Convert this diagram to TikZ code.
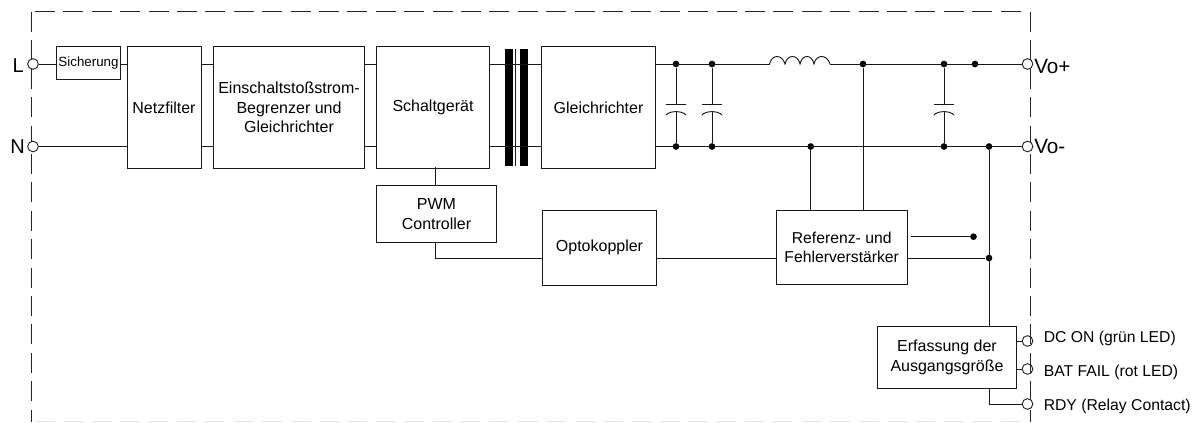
\documentclass[tikz,border=0pt]{standalone}
\usepackage{fontspec}
\setmainfont{Liberation Sans}
\usepackage{tikz}
\usetikzlibrary{arrows.meta,positioning,calc}

\begin{document}
\begin{tikzpicture}[
    x=0.75pt, y=-0.75pt,
    line/.style={draw=black!90, line width=0.7pt},
    box/.style={rectangle, draw=black!90, line width=0.7pt, font=\fontsize{12}{14.5}\selectfont, align=center, inner sep=0pt},
    frame/.style={draw=black!85, line width=0.7pt, dash pattern=on 15pt off 6.3pt},
    dot/.style={circle, fill=black, inner sep=0pt, minimum size=5pt},
    terminal/.style={circle, draw=black!85, line width=0.7pt, fill=white, inner sep=0pt, minimum size=8pt},
    label/.style={font=\fontsize{11.8}{14}\selectfont, inner sep=0pt},
    biglabel/.style={font=\fontsize{15}{17}\selectfont, inner sep=0pt}
]
\useasboundingbox (0,0) rectangle (1192,422);

% Boundary
\draw[frame] (35,11.5) -- (1021,11.5);
\draw[frame] (31,12) -- (31,422);
\draw[frame] (1030,12) -- (1030,422);
\draw[frame, draw=black!10, line width=0.6pt] (35,421.7) -- (1021,421.7);

% Blocks
\node[box, minimum width=48pt, minimum height=24.5pt, font=\fontsize{10}{12}\selectfont] (sicherung) at (88.5,63.2) {Sicherung};
\node[box, minimum width=55.5pt, minimum height=91pt] (netzfilter) at (164,107.5) {Netzfilter};
\node[box, minimum width=113pt, minimum height=91pt] (einschalt) at (289,107.5) {Einschaltstoßstrom-\\Begrenzer und\\Gleichrichter};
\node[box, minimum width=85pt, minimum height=91pt] (schalt) at (433,107.5) {Schaltgerät};
\node[box, minimum width=85pt, minimum height=91pt] (gleich) at (598.5,107.5) {Gleichrichter};
\node[box, minimum width=90.5pt, minimum height=43pt] (pwm) at (436.5,214.2) {PWM\\Controller};
\node[box, minimum width=85pt, minimum height=56pt] (opto) at (599.5,247.8) {Optokoppler};
\node[box, minimum width=98.5pt, minimum height=56pt, font=\fontsize{11.8}{14.5}\selectfont] (referenz) at (841.7,247.3) {Referenz- und\\Fehlerverstärker};
\node[box, minimum width=104.5pt, minimum height=46pt] (erfassung) at (947,357.5) {Erfassung der\\Ausgangsgröße};

% Terminals
\node[terminal] (tl) at (33,64) {};
\node[terminal] (tn) at (33,146.5) {};
\node[terminal] (tvp) at (1027.5,64) {};
\node[terminal] (tvm) at (1027.5,146.5) {};
\node[terminal, fill=none] (tdc) at (1027.5,341) {};
\node[terminal, fill=none] (tbat) at (1027.5,369) {};
\node[terminal] (trdy) at (1027.5,404) {};

% Terminal labels
\node[biglabel, anchor=east] (ll) at (24,65.5) {L};
\node[biglabel, anchor=east] (ln) at (25,146.5) {N};
\node[biglabel, font=\fontsize{15.5}{17}\selectfont, anchor=west] (lvp) at (1034,66.5) {Vo+};
\node[biglabel, font=\fontsize{15.5}{17}\selectfont, anchor=west] (lvm) at (1034,146.5) {Vo-};
\node[label, anchor=west] (ldc) at (1043.5,338.5) {DC ON (grün LED)};
\node[label, anchor=west] (lbat) at (1043.5,372.5) {BAT FAIL (rot LED)};
\node[label, anchor=west] (lrdy) at (1043.5,406.5) {RDY (Relay Contact)};

% Junctions
\foreach \name/\px/\py in {ca/676/64, cb/676/146.5, cc/712/64, cd/712/146.5, lout/863/64, ee/944/64, ef/944/146.5, eg/975/64, fb/810.7/146.5, vm/989/146.5, sense/989/258, open/973.5/236.7}
    \node[dot] (\name) at (\px,\py) {};

% Transformer
\fill[black] (505.3,48.5) rectangle (512.7,166);
\fill[black] (520,48.5) rectangle (527.5,166);
\draw[line] (515.5,48.5) -- (515.5,166);

% Mains side
\draw[line] (tl) -- (sicherung.west |- tl);
\draw[line] (sicherung.east |- tl) -- (netzfilter.west |- tl);
\draw[line] (tn) -- (netzfilter.west |- tn);
\draw[line] (netzfilter.east |- tl) -- (einschalt.west |- tl);
\draw[line] (netzfilter.east |- tn) -- (einschalt.west |- tn);
\draw[line] (einschalt.east |- tl) -- (schalt.west |- tl);
\draw[line] (einschalt.east |- tn) -- (schalt.west |- tn);
\draw[line] (schalt.east |- tl) -- (gleich.west |- tl);
\draw[line] (schalt.east |- tn) -- (gleich.west |- tn);

% Output side
\coordinate (lin) at (769.5,64);
\coordinate (lend) at (830,64);
\draw[line] (gleich.east |- ca) -- (lin);
\draw[line] (lin) .. controls (772,54) and (782,54) .. (785,64)
    .. controls (787,54) and (798,54) .. (800,64)
    .. controls (802,54) and (812,54) .. (814,64)
    .. controls (816,54) and (827,54) .. (lend);
\draw[line] (lend) -- (tvp);
\draw[line] (gleich.east |- cb) -- (tvm);

% Capacitors
\foreach \top/\bot in {ca/cb, cc/cd, ee/ef} {
    \draw[line] (\top) -- ($(\top)+(0,40.5)$);
    \draw[line] ($(\top)+(0,47.6)$) -- (\bot);
    \draw[line] ($(\top)+(-10,40.5)$) -- ($(\top)+(10,40.5)$);
    \draw[line] ($(\top)+(-10,51)$) .. controls ($(\top)+(-6,46.5)$) and ($(\top)+(6,46.5)$) .. ($(\top)+(10,51)$);
}

% Control
\coordinate (refopen) at (910.7,236.7);
\draw[line] ([xshift=-0.75pt]pwm.north) -- ++(0,-18);
\draw[line] (fb) -- (fb |- referenz.north);
\draw[line] (lout) -- (lout |- referenz.north);
\draw[line] ([xshift=-0.75pt]pwm.south) |- (opto.west |- sense);
\draw[line] (opto.east |- sense) -- (referenz.west |- sense);
\draw[line] (referenz.east |- sense) -- (sense);
\draw[line] (refopen) -- (open);
\draw[line] (vm) -- (vm |- erfassung.north);

% Status outputs
\draw[line] (erfassung.east |- tdc) -- (tdc);
\draw[line] (erfassung.east |- tbat) -- (tbat);
\draw[line] (vm |- erfassung.south) |- (trdy);

\end{tikzpicture}
\end{document}
